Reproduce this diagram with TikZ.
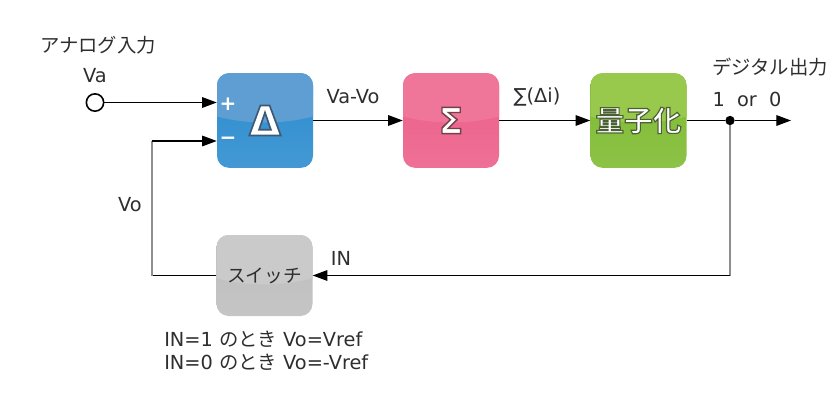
\documentclass[tikz,border=0pt]{standalone}
\usepackage{fontspec}
\setmainfont{DejaVu Sans}
\newfontfamily\jpfont{Noto Sans CJK JP}
\newfontfamily\glyphfont{DejaVu Sans Bold}[FakeBold=4]
\newfontfamily\jpglyph{Noto Sans CJK JP Bold}[FakeBold=4]
\usetikzlibrary{arrows.meta}

\definecolor{deltatop}{HTML}{5E9ED2}
\definecolor{deltabot}{HTML}{2A8BCE}
\definecolor{sigmatop}{HTML}{EF7699}
\definecolor{sigmabot}{HTML}{EC5D88}
\definecolor{quanttop}{HTML}{98C84C}
\definecolor{quantbot}{HTML}{7DBA2F}
\definecolor{swtop}{HTML}{CACACA}
\definecolor{swbot}{HTML}{BDBDBD}
\definecolor{linegray}{HTML}{8E8E8E}
\definecolor{txt}{HTML}{2E2E2E}

% white glyphs with a dark edge
\newcommand\edged[2]{\textcolor{white}{\special{pdf:literal direct #1 RG}#2}}

\tikzset{
  block/.style 2 args={rounded corners=9pt, inner sep=0pt,
    minimum width=72pt, minimum height=71pt,
    top color=#2, bottom color=#2!88!white,
    path picture={\fill[#1] ([yshift=60pt]path picture bounding box.north)
      ellipse [x radius=120pt, y radius=97pt];}},
  wire/.style={line width=0.9pt, -{Triangle[length=11pt,width=8pt]}},
  fbline/.style={linegray, line width=1.5pt},
  lbl/.style={text=txt, font=\fontsize{14.5}{17}\selectfont, inner sep=0pt}
}

\begin{document}
\begin{tikzpicture}[x=0.75pt, y=-0.75pt]
  \useasboundingbox (0,0) rectangle (840,407);

  % blocks
  \node[block={deltatop}{deltabot}] (delta) at (265,120.5)
    {\fontsize{31}{31}\glyphfont\edged{0.25 0.35 0.45}{Δ}};
  \node[block={sigmatop}{sigmabot}] (sigma) at (451,120.5)
    {\fontsize{27}{27}\glyphfont\edged{0.45 0.25 0.3}{Σ}};
  \node[block={quanttop}{quantbot}] (quant) at (638.5,120.5)
    {\fontsize{21.5}{22}\jpglyph\edged{0.3 0.38 0.2}{量子化}};
  \node[block={swtop}{swbot}, minimum height=60.75pt] (sw) at (264.5,275.5)
    {\fontsize{14}{16}\selectfont\jpfont\textcolor{txt}{スイッチ}};

  % signs on the delta block
  \node[text=white, font=\fontsize{15}{15}\selectfont\bfseries, inner sep=0pt] (plus) at (228,104) {+};
  \node[text=white, font=\fontsize{15}{15}\selectfont\bfseries, inner sep=0pt] (minus) at (228,141) {\textminus};

  % input
  \node[circle, draw, line width=1.2pt, minimum size=13pt, inner sep=0pt] (va) at (95,102.5) {};
  \draw[wire] (va) -- (va -| delta.west);

  % forward path
  \draw[wire] (delta) -- (sigma);
  \draw[wire] (sigma) -- (quant);
  \node[circle, fill, minimum size=7pt, inner sep=0pt] (junc) at (730,120.5) {};
  \coordinate (dout) at (791,120.5);
  \draw[line width=0.9pt] (quant) -- (junc);
  \draw[wire] (junc) -- (dout);

  % feedback path
  \coordinate (jcorner) at (junc |- sw);
  \coordinate (vcorner) at (152,275.5);
  \coordinate (vtop) at (152,141);
  \draw[fbline] (junc) -- (jcorner);
  \draw[wire] (jcorner) -- (sw);
  \draw[line width=0.9pt] (sw) -- (vcorner);
  \draw[fbline] (vcorner) -- (vtop);
  \draw[wire] (vtop) -- (vtop -| delta.west);

  % labels
  \node[lbl] (ain) at (98,45) {\jpfont アナログ入力};
  \node[lbl] (valbl) at (95,76) {Va};
  \node[lbl] (diff) at (353,97) {Va-Vo};
  \node[lbl] (sumlbl) at (537,97) {∑(Δi)};
  \node[lbl] (doutlbl) at (770,67) {\jpfont デジタル出力};
  \node[lbl] (bits) at (747,99) {1~ or~ 0};
  \node[lbl] (volbl) at (130,205) {Vo};
  \node[lbl] (inlbl) at (341,258) {IN};
  \node[lbl, anchor=west] (rule1) at (164,339) {IN=1 {\jpfont のとき} Vo=Vref};
  \node[lbl, anchor=west] (rule2) at (164,362) {IN=0 {\jpfont のとき} Vo=-Vref};
\end{tikzpicture}
\end{document}
